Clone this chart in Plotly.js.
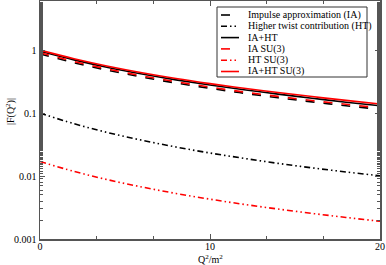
<!DOCTYPE html>
<html><head><meta charset="utf-8">
<script src="https://cdn.plot.ly/plotly-3.0.1.min.js"></script>
<style>html,body{margin:0;padding:0;background:#fff}#c{width:386px;height:265px}</style>
</head><body><div id="c"></div>
<script>
const q2 = [0, 2, 4, 6, 8, 10, 12, 14, 16, 18, 20];
const ia = [0.87, 0.630, 0.477, 0.373, 0.300, 0.247, 0.2065, 0.175, 0.1506, 0.1308, 0.1147];
const ht = [0.1, 0.0678, 0.0489, 0.0370, 0.0289, 0.0232, 0.0191, 0.0159, 0.0135, 0.0116, 0.0101];
const iaht = [0.96, 0.70, 0.53, 0.417, 0.337, 0.279, 0.235, 0.200, 0.172, 0.149, 0.131];
const iaSU3 = [0.91, 0.66, 0.50, 0.39, 0.315, 0.259, 0.216, 0.184, 0.158, 0.138, 0.121];
const htSU3 = [0.017, 0.01185, 0.00872, 0.00669, 0.00529, 0.00429, 0.00355, 0.00299, 0.00255, 0.00220, 0.00191];
const iahtSU3 = [1.0, 0.73, 0.555, 0.437, 0.354, 0.294, 0.248, 0.212, 0.183, 0.159, 0.139];
const names = ["Impulse approximation (IA)", "Higher twist contribution (HT)", "IA+HT", "IA SU(3)", "HT SU(3)", "IA+HT SU(3)"];
const ytickvals = [0.001, 0.01, 0.1, 1];
const yticktext = ["0.001", "0.01", "0.1", "1"];
const xtickvals = [0, 10, 20];

const W = 386, H = 265, ML = 40, MR = 6, MT = 1, MB = 26;
const PW = W - ML - MR, PH = H - MT - MB;
const px = v => (v - ML) / PW;
const py = v => (H - MB - v) / PH;

const dd = '6px,3px,1.5px,3px,1.5px,3px';
const series = [
  {y: ia, c: 'black', d: 'dash'},
  {y: ht, c: 'black', d: dd},
  {y: iaht, c: 'black', d: 'solid'},
  {y: iaSU3, c: 'red', d: 'dash'},
  {y: htSU3, c: 'red', d: dd},
  {y: iahtSU3, c: 'red', d: 'solid'}
];
const traces = series.map((s, i) => ({
  x: q2, y: s.y, name: names[i], mode: 'lines', type: 'scatter', showlegend: false,
  line: {color: s.c, dash: s.d, width: 1.6, shape: 'spline'}
}));
const fam = 'Liberation Serif, Times New Roman, serif';
const font = {family: fam, size: 10, color: '#000'};

// custom compact legend
const shapes = [{type: 'rect', xref: 'paper', yref: 'paper', x0: px(217), x1: px(367), y0: py(77), y1: py(7),
  line: {color: '#333', width: 1}, fillcolor: '#fff', layer: 'above'}];
const annotations = [];
series.forEach((s, i) => {
  const yc = 15 + i * 11.3;
  shapes.push({type: 'line', xref: 'paper', yref: 'paper', x0: px(221), x1: px(239), y0: py(yc), y1: py(yc),
    line: {color: s.c, dash: s.d, width: 1.6}, layer: 'above'});
  annotations.push({xref: 'paper', yref: 'paper', x: px(246), y: py(yc), xanchor: 'left', yanchor: 'middle',
    text: names[i], showarrow: false, font: {family: fam, size: 10, color: '#000'}});
});
annotations.push({xref: 'paper', yref: 'paper', x: 0.5, y: py(259), xanchor: 'center', yanchor: 'middle',
  text: 'Q<sup>2</sup>/m<sup>2</sup>', showarrow: false, font: font});
annotations.push({xref: 'paper', yref: 'paper', x: px(10), y: py(111), xanchor: 'center', yanchor: 'middle',
  textangle: -90, text: '|F(Q<sup>2</sup>)|', showarrow: false, font: font});

const layout = {
  width: W, height: H,
  margin: {l: ML, r: MR, t: MT, b: MB},
  paper_bgcolor: '#fff', plot_bgcolor: '#fff',
  font: font,
  showlegend: false,
  shapes: shapes, annotations: annotations,
  xaxis: {range: [0, 20], tickvals: xtickvals, ticktext: ['0', '10', '20'],
    ticks: 'inside', ticklen: 5, tickcolor: '#555', tickwidth: 1, ticklabelstandoff: -3,
    showline: true, linecolor: '#555', linewidth: 1.5, mirror: 'ticks',
    showgrid: false, zeroline: false,
    minor: {dtick: 10/3, ticks: 'inside', ticklen: 3, tickcolor: '#555', showgrid: false}},
  yaxis: {type: 'log', range: [-3, 0.78], tickvals: ytickvals, ticktext: yticktext,
    ticks: 'inside', ticklen: 5, tickcolor: '#555', tickwidth: 1,
    showline: true, linecolor: '#555', linewidth: 1.5, mirror: 'ticks',
    showgrid: false, zeroline: false,
    minor: {ticks: 'inside', ticklen: 3, tickcolor: '#555', showgrid: false}}
};
Plotly.newPlot('c', traces, layout, {staticPlot: true, displayModeBar: false});
</script></body></html>
